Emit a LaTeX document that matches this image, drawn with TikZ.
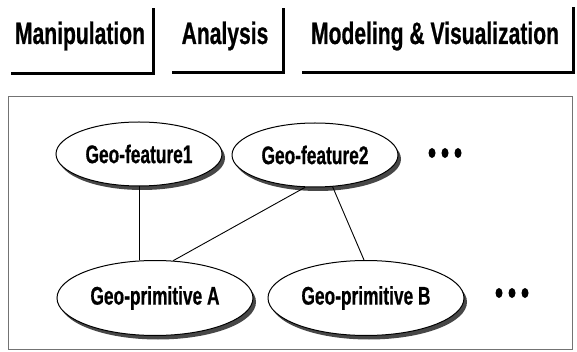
\documentclass[tikz,border=0pt]{standalone}
\usepackage{fontspec}
\setmainfont{Liberation Sans}
\newfontfamily\condsans[FakeStretch=0.68, FakeBold=0.6]{Liberation Sans}
\usetikzlibrary{shapes.geometric}

\tikzset{
  tablabel/.style={font=\condsans\bfseries\fontsize{31}{31}\selectfont, inner sep=0pt, anchor=base},
  tabedge/.style={line width=3pt},
  geo/.style={ellipse, draw, fill=white, line width=1pt, inner sep=0pt,
    font=\condsans\bfseries\fontsize{25.5}{25.5}\selectfont,
    preaction={fill=black!72, transform canvas={xshift=3pt, yshift=-4pt}}},
  link/.style={line width=0.9pt},
  frame/.style={draw=black!55, line width=0.8pt},
  dot/.style={fill=black}
}

\begin{document}
\begin{tikzpicture}[x=1pt, y=-1pt]
  \useasboundingbox (0,0) rectangle (577,352);

  % operation tabs along the top
  \node[tablabel] (manip) at (80,44) {Manipulation};
  \node[tablabel] (anal)  at (225,44) {Analysis};
  \node[tablabel] (model) at (435,44) {Modeling \& Visualization};
  \draw[tabedge] (11,74) -- (153,74) -- (153,8);
  \draw[tabedge] (172,73) -- (283,73) -- (283,8);
  \draw[tabedge] (302,73) -- (573,73) -- (573,7);

  % model frame
  \draw[frame] (8,96) rectangle (572,349);

  % features and primitives
  \node[geo, minimum width=166pt, minimum height=64pt] (f1) at (139,154) {Geo-feature1};
  \node[geo, minimum width=166pt, minimum height=64pt] (f2) at (315,155) {Geo-feature2};
  \node[geo, minimum width=196pt, minimum height=75pt] (pa) at (155,298) {Geo-primitive A};
  \node[geo, minimum width=196pt, minimum height=75pt] (pb) at (366,298) {Geo-primitive B};

  % relations
  \draw[link] (f1.south) -- (f1.south |- pa.north);
  \draw[link] (f2.253) -- (pa.64);
  \draw[link] (f2.299) -- (pb.93);

  % continuation marks
  \foreach \cx in {432,445,458} \fill[dot] (\cx,153) ellipse [x radius=3.5, y radius=5];
  \foreach \cx in {499,512,525} \fill[dot] (\cx,293) ellipse [x radius=3.5, y radius=5];
\end{tikzpicture}
\end{document}
